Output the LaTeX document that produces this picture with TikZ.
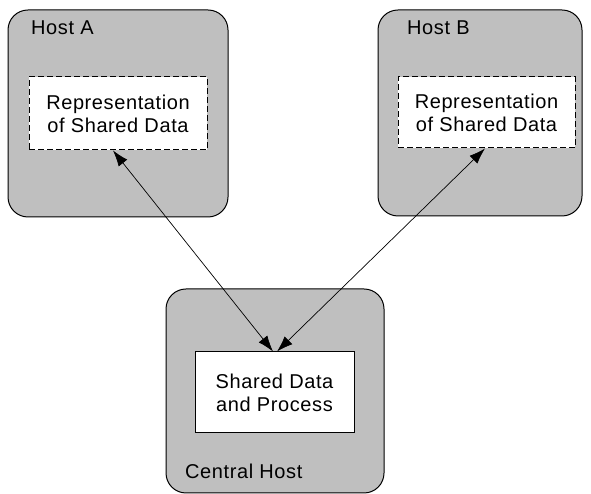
\documentclass[tikz,border=0pt]{standalone}
\usepackage{fontspec}
\setmainfont[LetterSpace=3]{Liberation Sans}
\usetikzlibrary{positioning,arrows.meta}

\begin{document}
\begin{tikzpicture}[x=1pt,y=1pt,
    host/.style={rectangle,rounded corners=20pt,draw,line width=1pt,
		fill=black!25},
    rep/.style={rectangle,draw,dash pattern=on 6pt off 3pt,line width=1pt,
		fill=white,align=center},
    core/.style={rectangle,draw,line width=1pt,fill=white,
		align=center},
% Label style
    hostlabel/.style={anchor=base west,inner sep=0pt},
    link/.style={{Latex[length=16pt,width=11pt]}-{Latex[length=16pt,width=11pt]},
		line width=0.7pt},
    font=\fontsize{20}{23}\selectfont
    ]
   \useasboundingbox (0,0) rectangle (591,494);
%%% Hosts
   \node [host, minimum width=220pt, minimum height=207pt] (hosta) at (118,380.5) {};
   \node [host, minimum width=204pt, minimum height=206pt] (hostb) at (480,381) {};
   \node [host, minimum width=218pt, minimum height=204pt] (central) at (275,103) {};

   \node [hostlabel] (labela) at (31,459) {Host A};
   \node [hostlabel] (labelb) at (407,459) {Host B};
   \node [hostlabel] (labelc) at (185,15) {Central Host};

%%% Shared data
   \node [rep, minimum width=178pt, minimum height=73pt] (repa) at (hosta.center)
		{Representation\\of Shared Data};
   \node [rep, minimum width=177pt, minimum height=71pt] (repb) at (486.5,381.5)
		{Representation\\of Shared Data};
   \node [core, minimum width=159pt, minimum height=81pt] (data) at (274.5,101.5)
		{Shared Data\\and Process};

   \draw [link] ([xshift=-5pt]repa.south) -- ([xshift=-1.5pt]data.north);
   \draw [link] ([xshift=-1.5pt]repb.south) -- ([xshift=2.5pt]data.north);
\end{tikzpicture}
\end{document}
